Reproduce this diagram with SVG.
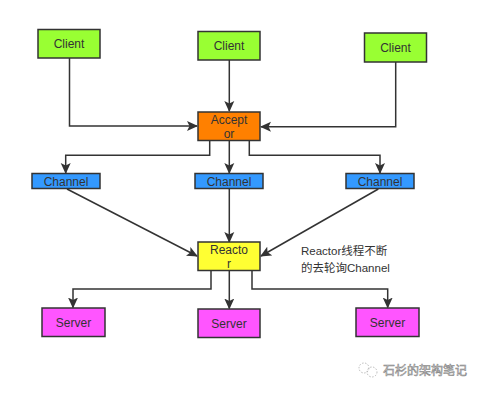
<svg xmlns="http://www.w3.org/2000/svg" width="500" height="408" viewBox="0 0 500 408">
<defs>
<marker id="ah" markerWidth="11" markerHeight="11" refX="10" refY="5.5" orient="auto" markerUnits="userSpaceOnUse">
<path d="M0,0.5 L11,5.5 L0,10.5 L2.5,5.5 Z" fill="#333"/>
</marker>
</defs>
<style>
.box{stroke:#333;stroke-width:1.5}
.t{font-family:"Liberation Sans","Noto Sans",sans-serif;font-size:12px;fill:#333;text-anchor:middle}
.c{fill:none;stroke:#333;stroke-width:1.5;marker-end:url(#ah)}
.n{font-family:"Liberation Sans","Noto Sans CJK SC",sans-serif;font-size:11.5px;fill:#333}
</style>
<rect width="500" height="408" fill="#fff"/>
<g id="connectors">
<path class="c" d="M69.5,58 V126 H197"/>
<path class="c" d="M229.3,60 V111"/>
<path class="c" d="M395.7,62 V126.7 H261"/>
<path class="c" d="M209.7,140.5 V155.3 H65.7 V173"/>
<path class="c" d="M229.3,140.5 V173"/>
<path class="c" d="M249.3,140.5 V155.3 H380 V173"/>
<path class="c" d="M67,189 L197,256"/>
<path class="c" d="M229.3,189 V242"/>
<path class="c" d="M378.3,189 L261,256"/>
<path class="c" d="M211,270.5 V289 H73 V307.5"/>
<path class="c" d="M229.3,270.5 V308.5"/>
<path class="c" d="M252,270.5 V289 H387.7 V307.5"/>
</g>
<g id="client1"><rect class="box" x="38" y="29.5" width="62" height="28.5" fill="#99ff33"/><text class="t" x="69" y="48">Client</text></g>
<g id="client2"><rect class="box" x="198" y="31.5" width="62" height="28.5" fill="#99ff33"/><text class="t" x="229" y="50">Client</text></g>
<g id="client3"><rect class="box" x="364.5" y="33" width="62" height="29" fill="#99ff33"/><text class="t" x="395.5" y="51.5">Client</text></g>
<g id="acceptor"><rect class="box" x="198" y="112" width="62" height="28.5" fill="#ff8000"/><text class="t" x="229" y="123.5">Accept</text><text class="t" x="229" y="138">or</text></g>
<g id="channel1"><rect class="box" x="32" y="173.5" width="68" height="15" fill="#3399ff"/><text class="t" x="66" y="185.5">Channel</text></g>
<g id="channel2"><rect class="box" x="195" y="173.5" width="68" height="15" fill="#3399ff"/><text class="t" x="229" y="185.5">Channel</text></g>
<g id="channel3"><rect class="box" x="346" y="173.5" width="68" height="15" fill="#3399ff"/><text class="t" x="380" y="185.5">Channel</text></g>
<g id="reactor"><rect class="box" x="198" y="242" width="62" height="28.5" fill="#ffff33"/><text class="t" x="229" y="253.5">Reacto</text><text class="t" x="229" y="268">r</text></g>
<g id="server1"><rect class="box" x="42" y="308" width="63" height="28.5" fill="#ff55ff"/><text class="t" x="73.5" y="326.5">Server</text></g>
<g id="server2"><rect class="box" x="198" y="309" width="62" height="28.5" fill="#ff55ff"/><text class="t" x="229" y="327.5">Server</text></g>
<g id="server3"><rect class="box" x="356" y="308" width="63" height="28.5" fill="#ff55ff"/><text class="t" x="387.5" y="326.5">Server</text></g>
<g id="note">
<text class="n" x="301" y="255">Reactor线程不断</text>
<text class="n" x="301" y="271.5">的去轮询Channel</text>
</g>
<g id="watermark">
<circle cx="364" cy="368" r="5" fill="none" stroke="#aaa" stroke-width="0.8" stroke-dasharray="1.5,1.5"/>
<circle cx="372" cy="372" r="5" fill="none" stroke="#aaa" stroke-width="0.8" stroke-dasharray="1.5,1.5"/>
<text font-family="Noto Sans CJK SC,sans-serif" font-size="12" fill="#fff" stroke="#888" stroke-width="0.6" x="383" y="375">石杉的架构笔记</text>
</g>
</svg>
